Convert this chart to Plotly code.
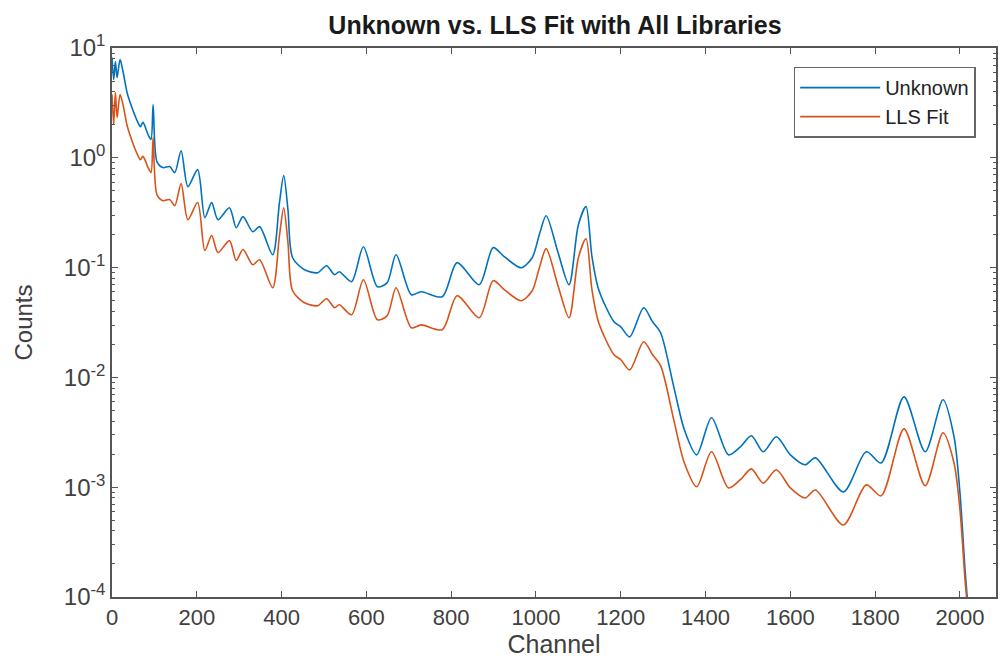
import plotly.graph_objects as go

channels = [0, 4, 8, 12, 19, 26, 35, 42, 61, 67, 73, 85, 92, 97, 106, 120, 136, 148,
            163, 179, 202, 219, 235, 250, 277, 293, 309, 332, 348, 379, 395, 405, 415,
            426, 454, 485, 506, 525, 536, 565, 593, 626, 649, 670, 706, 729, 779, 814,
            866, 899, 925, 965, 991, 1008, 1024, 1052, 1078, 1100, 1118, 1132, 1148,
            1184, 1200, 1221, 1254, 1275, 1294, 1325, 1350, 1379, 1414, 1454, 1482,
            1508, 1536, 1567, 1600, 1635, 1659, 1725, 1779, 1814, 1868, 1918, 1960,
            1986, 2000, 2012, 2018]

unknown = [8.19, 5.16, 7.53, 5.38, 7.85, 6.11, 4.01, 3.25, 2.10, 1.92, 2.10, 1.63, 1.47,
           3.05, 0.923, 0.814, 0.832, 0.733, 1.16, 0.546, 0.780, 0.285, 0.391, 0.273,
           0.351, 0.231, 0.291, 0.212, 0.236, 0.131, 0.391, 0.689, 0.337, 0.123, 0.0957,
           0.0898, 0.104, 0.0861, 0.0918, 0.0745, 0.155, 0.0670, 0.0730, 0.131, 0.0566,
           0.0603, 0.0543, 0.111, 0.0699, 0.152, 0.126, 0.0997, 0.123, 0.200, 0.297,
           0.137, 0.0699, 0.246, 0.359, 0.126, 0.063, 0.0321, 0.0289, 0.0234, 0.0431,
           0.0321, 0.0255, 0.0082, 0.00333, 0.00197, 0.00429, 0.00197, 0.00233, 0.00294,
           0.00210, 0.00288, 0.00197, 0.00160, 0.00185, 0.000906, 0.00210, 0.00166,
           0.00665, 0.00210, 0.00625, 0.00288, 0.000888, 0.000176, 0.0000898]

lls_fit = [3.77, 2.01, 3.93, 2.32, 3.77, 3.05, 2.01, 1.63, 1.05, 0.963, 1.03, 0.814, 0.733,
           1.53, 0.462, 0.407, 0.417, 0.366, 0.582, 0.273, 0.391, 0.143, 0.196, 0.137,
           0.176, 0.116, 0.146, 0.106, 0.118, 0.0656, 0.196, 0.351, 0.169, 0.0615, 0.0479,
           0.0450, 0.0521, 0.0431, 0.0459, 0.0372, 0.0776, 0.0335, 0.0365, 0.0656, 0.0283,
           0.0301, 0.0272, 0.0555, 0.0349, 0.0760, 0.0630, 0.0499, 0.0615, 0.0997, 0.149,
           0.0684, 0.0349, 0.123, 0.183, 0.0630, 0.0315, 0.0161, 0.0145, 0.0117, 0.0211,
           0.0161, 0.0128, 0.00410, 0.00166, 0.00101, 0.00210, 0.000986, 0.00117, 0.00147,
           0.00109, 0.00144, 0.000986, 0.000798, 0.000944, 0.000453, 0.00105, 0.000834,
           0.00340, 0.00103, 0.00313, 0.00166, 0.000621, 0.000143, 0.00008]

x_ticks = [0, 200, 400, 600, 800, 1000, 1200, 1400, 1600, 1800, 2000]
y_ticks = [1e-4, 1e-3, 1e-2, 1e-1, 1e0, 1e1]
y_tick_text = ["10<sup>-4</sup>", "10<sup>-3</sup>", "10<sup>-2</sup>",
               "10<sup>-1</sup>", "10<sup>0</sup>", "10<sup>1</sup>"]
y_minor = [m * 10.0 ** e for e in range(-4, 1) for m in range(2, 10)]

FONT = "Liberation Sans, Arial, sans-serif"
AX = "#555555"
TXT = "#404040"

fig = go.Figure()
fig.add_trace(go.Scatter(x=channels, y=unknown, mode="lines", name="Unknown",
                         line=dict(color="#0072BD", width=1.6, shape="spline", smoothing=0.8)))
fig.add_trace(go.Scatter(x=channels, y=lls_fit, mode="lines", name="LLS Fit",
                         line=dict(color="#D95319", width=1.6, shape="spline", smoothing=0.8)))

fig.update_layout(
    width=1000, height=658,
    margin=dict(l=112, r=2, t=48, b=61),
    paper_bgcolor="white", plot_bgcolor="white",
    font=dict(family=FONT, color=TXT, size=21),
    title=dict(text="<b>Unknown vs. LLS Fit with All Libraries</b>", x=0.555, xanchor="center",
               y=0.962, yanchor="middle", font=dict(size=25, color="#1a1a1a")),
    showlegend=True,
    legend=dict(x=0.977, y=0.966, xanchor="right", yanchor="top",
                bordercolor="#666666", borderwidth=1.5, bgcolor="white",
                font=dict(size=20, color="#222222"), itemwidth=80, tracegroupgap=0),
)
fig.update_xaxes(range=[0, 2085], tickvals=x_ticks, ticks="inside", ticklen=6,
                 tickcolor=AX, showline=True, linecolor=AX, linewidth=1.5, mirror="ticks",
                 showgrid=False, zeroline=False, tickfont=dict(size=22, color=TXT),
                 title=dict(text="Channel", font=dict(size=25, color=TXT), standoff=6))
fig.update_yaxes(type="log", range=[-4, 1], tickvals=y_ticks, ticktext=y_tick_text,
                 ticks="inside", ticklen=6, tickcolor=AX, showline=True, linecolor=AX,
                 linewidth=1.5, mirror="ticks", showgrid=False, zeroline=False,
                 tickfont=dict(size=24, color=TXT),
                 minor=dict(tickvals=y_minor, ticks="inside", ticklen=3, tickcolor=AX,
                            showgrid=False),
                 title=dict(text="Counts", font=dict(size=24, color=TXT), standoff=24))

fig.write_html("out.html")
